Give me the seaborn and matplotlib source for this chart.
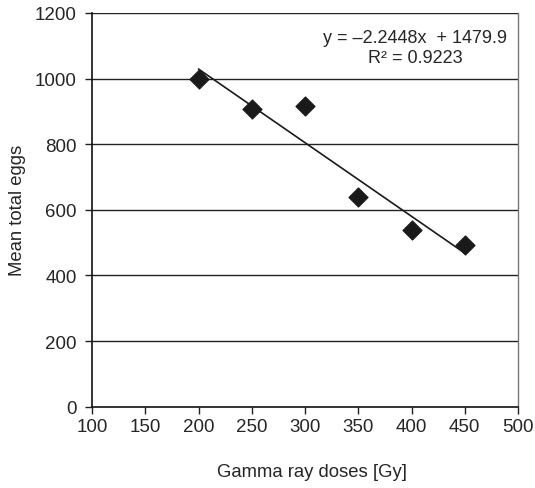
import matplotlib
matplotlib.use("Agg")
import matplotlib.pyplot as plt
import seaborn as sns
import numpy as np
import pandas as pd

doses = [200, 250, 300, 350, 400, 450]
eggs = [1000, 908, 916, 638, 538, 492]
x_ticks = [100, 150, 200, 250, 300, 350, 400, 450, 500]
y_ticks = [0, 200, 400, 600, 800, 1000, 1200]
equation_text = "y = \u20132.2448x  + 1479.9\nR\u00b2 = 0.9223"

sns.set_style("white")
plt.rcParams['font.family'] = ['Liberation Sans', 'DejaVu Sans']

df = pd.DataFrame({"dose": doses, "eggs": eggs})

fig = plt.figure(figsize=(5.35, 4.89), dpi=100)
ax = fig.add_axes([92/535, 1 - 407.7/489, (518-92)/535, (407.7-14)/489])

ax.set_xlim(100, 500)
ax.set_ylim(0, 1200)
ax.set_yticks(y_ticks)
ax.set_xticks(x_ticks)
for yv in y_ticks[1:]:
    ax.axhline(yv, color="#222222", lw=1.0, zorder=1)

sns.regplot(data=df, x="dose", y="eggs", ci=None, truncate=True, ax=ax,
            scatter=False, line_kws=dict(color="#1a1a1a", lw=1.2, zorder=2))
sns.scatterplot(data=df, x="dose", y="eggs", marker="D", s=95, color="#1a1a1a",
                edgecolor="#1a1a1a", ax=ax, zorder=3)

ax.set_xlabel("Gamma ray doses [Gy]", fontsize=13.3)
ax.set_ylabel("Mean total eggs", fontsize=13.3)
ax.xaxis.set_label_coords(0.5 + 7/426, -(473 - 407.7) / 393.7)
ax.yaxis.set_label_coords(-(92 - 17.5) / 426, 0.5)
ax.xaxis.label.set_verticalalignment("center")
ax.yaxis.label.set_verticalalignment("center")
ax.tick_params(axis="both", labelsize=13.5, length=5, width=1, color="#222222",
               direction="out", bottom=True, left=True)
ax.tick_params(axis="x", pad=3)
ax.tick_params(axis="y", pad=6)

for side in ["left", "bottom"]:
    ax.spines[side].set_color("#111111")
    ax.spines[side].set_linewidth(1.2)
ax.spines["top"].set_visible(False)
ax.spines["right"].set_color("#777777")
ax.spines["right"].set_linewidth(1.0)

ax.text(0.758, 0.913, equation_text, transform=ax.transAxes,
        ha="center", va="center", fontsize=13, linespacing=1.25)

fig.savefig("out.png", dpi=100)
